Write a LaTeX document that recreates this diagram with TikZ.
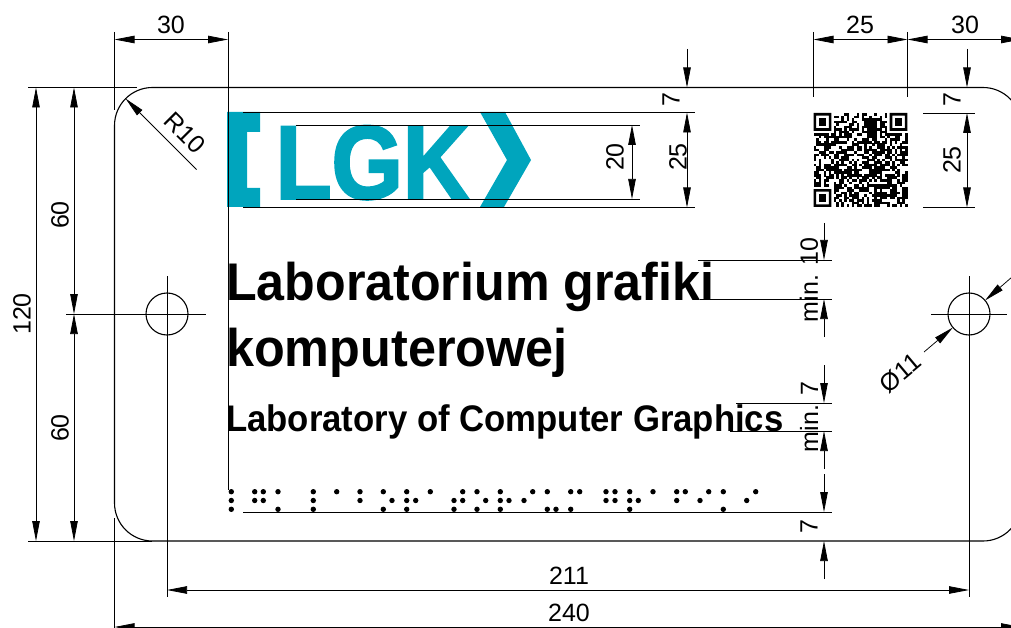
\documentclass[tikz,border=0pt]{standalone}
\usepackage{fontspec}
\setmainfont{Liberation Sans}
\newfontface\logofont[FakeBold=2.5]{Liberation Sans Bold}
\usetikzlibrary{arrows.meta}
\definecolor{logoteal}{RGB}{0,165,189}
\begin{document}
\begin{tikzpicture}[x=1pt,y=-1pt,
    >={Triangle[length=20pt,width=7.5pt]},
    plateline/.style={line width=1.1pt},
    thinline/.style={line width=0.75pt},
    dimline/.style={thinline},
    dimtext/.style={inner sep=0pt,font=\fontsize{25}{25}\selectfont},
    signtext/.style={inner sep=0pt,anchor=base west,transform shape}]
  \useasboundingbox (0,0) rectangle (1011,628);
  \clip (0,0) rectangle (1011,628);

  \def\pl{114.5}% plate left
  \def\pr{1021}% plate right
  \def\pt{87.5}% plate top
  \def\pb{541}% plate bottom
  \def\hy{314}% hole centre y
  \def\hl{167}% left hole x
  \def\hr{969}% right hole x
  \def\hrad{21}% hole radius
  %
  % logo:
  \fill[logoteal] (227,112) -- (260,112) -- (260,132) -- (247,132) -- (247,188)
    -- (260,188) -- (260,207) -- (227,207) -- cycle;
  \fill[logoteal] (480,112) -- (505,112) -- (531,160) -- (504,207) -- (480,207)
    -- (507,160) -- cycle;
  \node[signtext,xscale=0.88,text=logoteal,font=\logofont\fontsize{104}{104}\selectfont]
    (logotext) at (275.5,198.5) {LGK};
  %
  % plate and holes:
  \draw[plateline,rounded corners=38pt] (\pl,\pt) rectangle (\pr,\pb);
  \draw[plateline] (\hl,\hy) circle[radius=\hrad];
  \draw[plateline] (\hr,\hy) circle[radius=\hrad];
  %
  % extension lines:
  \foreach \xa/\ya/\xb/\yb in {
      28/\pt/137/\pt, 28/\pb/152/\pb,
      66/\hy/206/\hy, 931/\hy/1007/\hy,
      \hl/276/\hl/597, \hr/276/\hr/597,
      \pl/32/\pl/110, \pl/518/\pl/628,
      228/32/228/490, 813.5/32/813.5/97, 907.5/32/907.5/97,
      243/112.5/695/112.5, 243/207.5/695/207.5,
      296/125/640/125, 296/199/640/199,
      923/113/975/113, 923/207.5/975/207.5,
      698/260/832/260, 700/299/832/299,
      736/403/832/403, 730/431/832/431,
      243/512/832/512}
    \draw[thinline] (\xa,\ya) -- (\xb,\yb);
  %
  % dimensions with two arrows:
  \foreach \xa/\ya/\xb/\yb in {
      \pl/39.5/228/39.5, 813.5/39.5/907.5/39.5, 907.5/39.5/\pr/39.5,
      \hl/590/\hr/590, \pl/627/\pr/627,
      36/\pt/36/\pb, 74/\pt/74/\hy, 74/\hy/74/\pb,
      632/125/632/199, 687/112.5/687/207.5, 967/113/967/207.5}
    \draw[dimline,<->] (\xa,\ya) -- (\xb,\yb);
  %
  % dimensions with arrows from outside:
  \foreach \x/\yo/\yt in {
      687/49/\pt, 967/49/\pt,
      824/223/260, 824/337/299,
      824/365/403, 824/469/431,
      824/474/512, 824/579/541}
    \draw[dimline,->] (\x,\yo) -- (\x,\yt);
  \draw[dimline,<-] (125.6,98.6) -- (196.5,169.5);
  \draw[dimline,->] (924,352) -- (952.9,327.5);
  \draw[dimline,->] (1012,277) -- (985,300.5);
  %
  % dimension texts:
  \node[dimtext] (widthleft) at (171,25) {30};
  \node[dimtext] (widthcode) at (860,25) {25};
  \node[dimtext] (widthright) at (965,25) {30};
  \node[dimtext] (holes) at (569,576) {211};
  \node[dimtext] (width) at (569,613) {240};
  \node[dimtext,rotate=90] (height) at (22,314) {120};
  \node[dimtext,rotate=90] (halfup) at (60,215) {60};
  \node[dimtext,rotate=90] (halfdown) at (60,428) {60};
  \node[dimtext,rotate=90] (logotop) at (671,100) {7};
  \node[dimtext,rotate=90] (logoheight) at (678,157) {25};
  \node[dimtext,rotate=90] (letterheight) at (615,157) {20};
  \node[dimtext,rotate=90] (codetop) at (952,100) {7};
  \node[dimtext,rotate=90] (codeheight) at (952,160) {25};
  \node[dimtext,rotate=90] (minten) at (809,280) {min. 10};
  \node[dimtext,rotate=90] (minseven) at (809,417) {min. 7};
  \node[dimtext,rotate=90] (brailletop) at (809,527) {7};
  \node[dimtext,rotate=-45] (radius) at (185,133) {R10};
  \node[dimtext,rotate=40] (bore) at (900,373) {Ø11};
  %
  % sign texts:
  \node[signtext,xscale=0.947,font=\bfseries\fontsize{53}{53}\selectfont] (titleone) at (226,300) {Laboratorium grafiki};
  \node[signtext,xscale=0.95,font=\bfseries\fontsize{53}{53}\selectfont] (titletwo) at (226,366) {komputerowej};
  \node[signtext,xscale=0.938,font=\bfseries\fontsize{37}{37}\selectfont] (titleen) at (226,431) {Laboratory of Computer Graphics};
  %
  % braille:
  \foreach \x in {231.3,254.7,263.3,278,313.3,336.7,360,383.3,406.7,430.3,462.7,477,500.3,
      532.7,547.3,570.7,579.7,606,615,629.7,653,676.7,685.3,708.7,723.3,755.7}
    \fill (\x,491.7) circle[radius=2.7];
  \foreach \x in {231.3,254.7,263.3,313.3,360,392,406.7,415.7,454,462.7,485.7,500.3,509,
      524,606,615,629.7,638.3,676.7,700,746.7}
    \fill (\x,500.5) circle[radius=2.7];
  \foreach \x in {231.3,278,313.3,383.3,406.7,454,477,500.3,547.3,556,570.7,629.7,723.3}
    \fill (\x,509.3) circle[radius=2.7];
  %
  % code:
  \def\qx{813.5}% code left
  \def\qy{113}% code top
  \def\qm{2.54}% module
  \pgfmathsetseed{4711}
  \foreach \i in {0,...,36}{
    \foreach \j in {0,...,36}{
      \pgfmathsetmacro\qrfree{((\i<8&&\j<8)||(\i>28&&\j<8)||(\i<8&&\j>28))?0:1}
      \pgfmathsetmacro\qrdark{rnd<0.62?1:0}
      \ifdim\qrfree pt>0pt\ifdim\qrdark pt>0pt
        \fill (\qx+\i*\qm,\qy+\j*\qm) rectangle ++(\qm+0.05,\qm+0.05);
      \fi\fi
    }
  }
  \foreach \i/\j in {0/0,30/0,0/30}{
    \fill[even odd rule] (\qx+\i*\qm,\qy+\j*\qm) rectangle ++(7*\qm,7*\qm)
      (\qx+\i*\qm+\qm,\qy+\j*\qm+\qm) rectangle ++(5*\qm,5*\qm);
    \fill (\qx+\i*\qm+2*\qm,\qy+\j*\qm+2*\qm) rectangle ++(3*\qm,3*\qm);
  }
\end{tikzpicture}
\end{document}
